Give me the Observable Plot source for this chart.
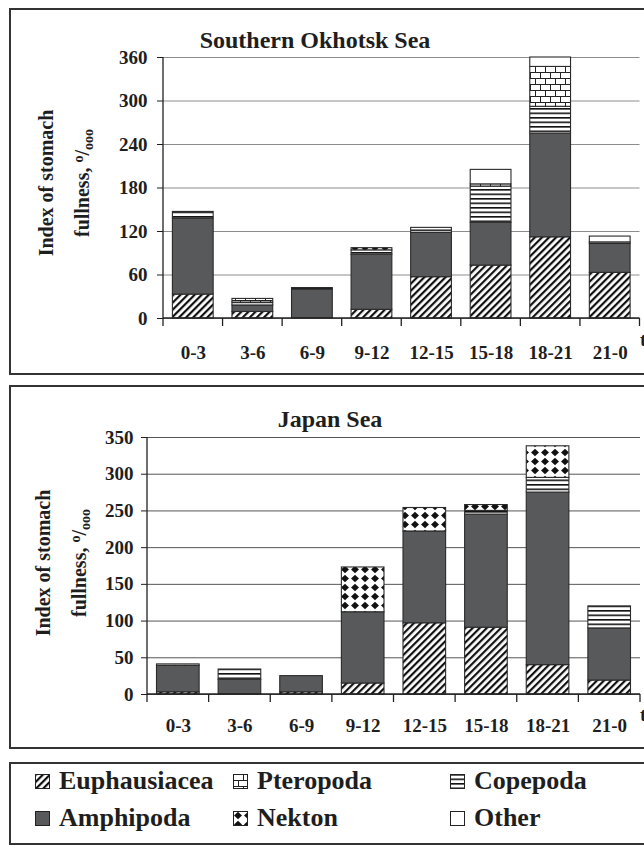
<!DOCTYPE html>
<html>
<head>
<meta charset="utf-8">
<script src="https://cdn.jsdelivr.net/npm/d3@7"></script>
<script src="https://cdn.jsdelivr.net/npm/@observablehq/plot@0.6"></script>
<style>
html, body { margin: 0; padding: 0; background: #fff; overflow: hidden; }
body { width: 644px; height: 846px; position: relative; font-family: "Liberation Serif", "Times New Roman", serif; font-weight: bold; color: #1e1e1e; }
.panel { position: absolute; border: 2px solid #333; box-sizing: border-box; }
.abs { position: absolute; white-space: nowrap; }
.title { transform: translate(-50%, -50%); font-size: 24px; line-height: 28px; }
.ylab { position: absolute; transform: translate(-50%, -50%) rotate(-90deg); text-align: center; font-size: 20px; line-height: 36px; white-space: nowrap; }
.sup { position: relative; top: -0.45em; font-size: 0.7em; }
.sub { position: relative; top: 0.3em; font-size: 0.7em; }
.plotbox { position: absolute; left: 0; }
.leg { position: absolute; font-size: 26px; line-height: 30px; transform: translateY(-50%); white-space: nowrap; display: flex; align-items: center; }
.leg svg { margin-right: 9px; }
</style>
</head>
<body>
<svg width="0" height="0" style="position:absolute;left:0;top:0">
  <defs>
    <pattern id="pat-euph" patternUnits="userSpaceOnUse" width="5" height="5" patternTransform="rotate(45)">
      <rect width="5" height="5" fill="#fff"/>
      <rect x="0" y="0" width="2.2" height="5" fill="#111"/>
    </pattern>
    <pattern id="pat-cope" patternUnits="userSpaceOnUse" width="8" height="4.5">
      <rect width="8" height="4.5" fill="#fff"/>
      <rect x="0" y="0" width="8" height="1.6" fill="#111"/>
    </pattern>
    <pattern id="pat-ptero" patternUnits="userSpaceOnUse" width="10" height="12">
      <rect width="10" height="12" fill="#fff"/>
      <path d="M0 0.5H10M0 6.5H10M0.5 0V6.5M5.5 6.5V12" stroke="#222" stroke-width="1" fill="none"/>
    </pattern>
    <pattern id="pat-nekton" patternUnits="userSpaceOnUse" width="10" height="9">
      <rect width="10" height="9" fill="#fff"/>
      <path d="M5 0.7L9 4.5L5 8.3L1 4.5Z" fill="#111"/>
    </pattern>
  </defs>
</svg>

<div class="panel" style="left:9px;top:8px;width:660px;height:367px"></div>
<div class="panel" style="left:9px;top:385px;width:660px;height:364px"></div>
<div class="panel" style="left:9px;top:762px;width:660px;height:83px"></div>

<div id="title1" class="abs title" style="left:315px;top:40px"></div>
<div id="title2" class="abs title" style="left:330px;top:419px"></div>

<div class="ylab" style="left:65px;top:183px">Index of stomach<br>fullness, <span class="sup">o</span>/<span class="sub">ooo</span></div>
<div class="ylab" style="left:62px;top:563px">Index of stomach<br>fullness, <span class="sup">o</span>/<span class="sub">ooo</span></div>

<div id="plot1" class="plotbox" style="top:0px"></div>
<div id="plot2" class="plotbox" style="top:385px"></div>

<div class="abs" style="left:640px;top:330px;font-size:19px;line-height:19px">t</div>
<div class="abs" style="left:640px;top:705px;font-size:19px;line-height:19px">t</div>

<div id="legend"></div>

<script>
// ---------- data ----------
const categories = ["0-3", "3-6", "6-9", "9-12", "12-15", "15-18", "18-21", "21-0"];
const series = ["Euphausiacea", "Amphipoda", "Copepoda", "Pteropoda", "Nekton", "Other"];
const legendOrder = ["Euphausiacea", "Pteropoda", "Copepoda", "Amphipoda", "Nekton", "Other"];

const okhotskTitle = "Southern Okhotsk Sea";
const japanTitle = "Japan Sea";
const okhotskTicks = [0, 60, 120, 180, 240, 300, 360];
const japanTicks = [0, 50, 100, 150, 200, 250, 300, 350];

const okhotskEuphausiacea = [33, 9, 0, 12, 57, 73, 112, 63];
const okhotskAmphipoda    = [105, 9, 40, 76, 61, 59, 143, 40];
const okhotskCopepoda     = [9, 4, 2, 6, 7, 50, 37, 2];
const okhotskPteropoda    = [0, 5, 0, 0, 0, 3, 55, 0];
const okhotskNekton       = [0, 0, 0, 3, 0, 0, 0, 0];
const okhotskOther        = [0, 0, 0, 0, 0, 20, 13, 8];

const japanEuphausiacea = [3, 0, 3, 15, 97, 91, 40, 19];
const japanAmphipoda    = [36, 20, 22, 97, 125, 154, 235, 71];
const japanCopepoda     = [0, 14, 0, 0, 0, 5, 20, 30];
const japanPteropoda    = [0, 0, 0, 0, 0, 0, 0, 0];
const japanNekton       = [2, 0, 0, 61, 32, 8, 43, 0];
const japanOther        = [0, 0, 0, 0, 0, 0, 0, 0];

// ---------- styling ----------
const fills = {
  Euphausiacea: "url(#pat-euph)",
  Amphipoda: "#58595b",
  Copepoda: "url(#pat-cope)",
  Pteropoda: "url(#pat-ptero)",
  Nekton: "url(#pat-nekton)",
  Other: "#ffffff"
};

function table(cols) {
  const rows = [];
  categories.forEach((c, i) => {
    series.forEach(s => {
      const v = cols[s][i];
      if (v > 0) rows.push({period: c, series: s, value: v});
    });
  });
  return rows;
}

const okhotskRows = table({
  Euphausiacea: okhotskEuphausiacea, Amphipoda: okhotskAmphipoda, Copepoda: okhotskCopepoda,
  Pteropoda: okhotskPteropoda, Nekton: okhotskNekton, Other: okhotskOther
});
const japanRows = table({
  Euphausiacea: japanEuphausiacea, Amphipoda: japanAmphipoda, Copepoda: japanCopepoda,
  Pteropoda: japanPteropoda, Nekton: japanNekton, Other: japanOther
});

function axisLines(yMax) {
  return (index, scales, values, dims) => {
    const {x, y} = scales;
    const ns = "http://www.w3.org/2000/svg";
    const g = document.createElementNS(ns, "g");
    g.setAttribute("stroke", "#222");
    g.setAttribute("stroke-width", "1.3");
    g.setAttribute("fill", "none");
    const x0 = dims.marginLeft, x1 = dims.width - dims.marginRight;
    const y0 = y(0), yT = y(yMax);
    const add = d => { const p = document.createElementNS(ns, "path"); p.setAttribute("d", d); g.appendChild(p); };
    add(`M${x0},${yT}V${y0}H${x1}`);
    categories.map(c => x(c)).concat([x1]).forEach(xx => add(`M${xx},${y0}V${y0 + 8}`));
    return g;
  };
}

function chart({rows, ticks, height, marginTop, marginBottom, marginLeft, marginRight, tickPadding, xPad, gridColor, inset}) {
  const yMax = ticks[ticks.length - 1];
  return Plot.plot({
    width: 644, height, marginTop, marginBottom, marginLeft, marginRight,
    style: "background:transparent;overflow:visible;font:bold 19px 'Liberation Serif',serif;color:#1e1e1e;",
    x: {domain: categories, padding: 0, round: false, label: null, tickSize: 0, tickPadding: xPad},
    y: {domain: [0, yMax], ticks, tickSize: 6, tickPadding, label: null},
    color: {type: "ordinal", domain: series, range: series.map(s => fills[s])},
    marks: [
      Plot.ruleY(ticks, {stroke: gridColor, strokeWidth: 1}),
      Plot.barY(rows, {x: "period", y: "value", fill: "series", stroke: "#2a2a2a", strokeWidth: 1.1, insetLeft: inset, insetRight: inset}),
      axisLines(yMax)
    ]
  });
}

document.getElementById("title1").textContent = okhotskTitle;
document.getElementById("title2").textContent = japanTitle;

document.getElementById("plot1").appendChild(chart({
  rows: okhotskRows, ticks: okhotskTicks, height: 375,
  marginTop: 57, marginBottom: 57, marginLeft: 163, marginRight: 4.5,
  tickPadding: 10, xPad: 27, gridColor: "#8c8c8c", inset: 9.4
}));
document.getElementById("plot2").appendChild(chart({
  rows: japanRows, ticks: japanTicks, height: 365,
  marginTop: 52, marginBottom: 56, marginLeft: 147, marginRight: 4,
  tickPadding: 8, xPad: 24, gridColor: "#555", inset: 9.5
}));

// ---------- legend ----------
const legend = document.getElementById("legend");
const colX = [35, 233, 450], rowY = [781, 818];
legendOrder.forEach((s, i) => {
  const div = document.createElement("div");
  div.className = "leg";
  div.style.left = colX[i % 3] + "px";
  div.style.top = rowY[Math.floor(i / 3)] + "px";
  div.innerHTML = `<svg width="15" height="15"><rect x="0.5" y="0.5" width="14" height="14" fill="${fills[s]}" stroke="#222" stroke-width="1"/></svg><span>${s}</span>`;
  legend.appendChild(div);
});
</script>
</body>
</html>
